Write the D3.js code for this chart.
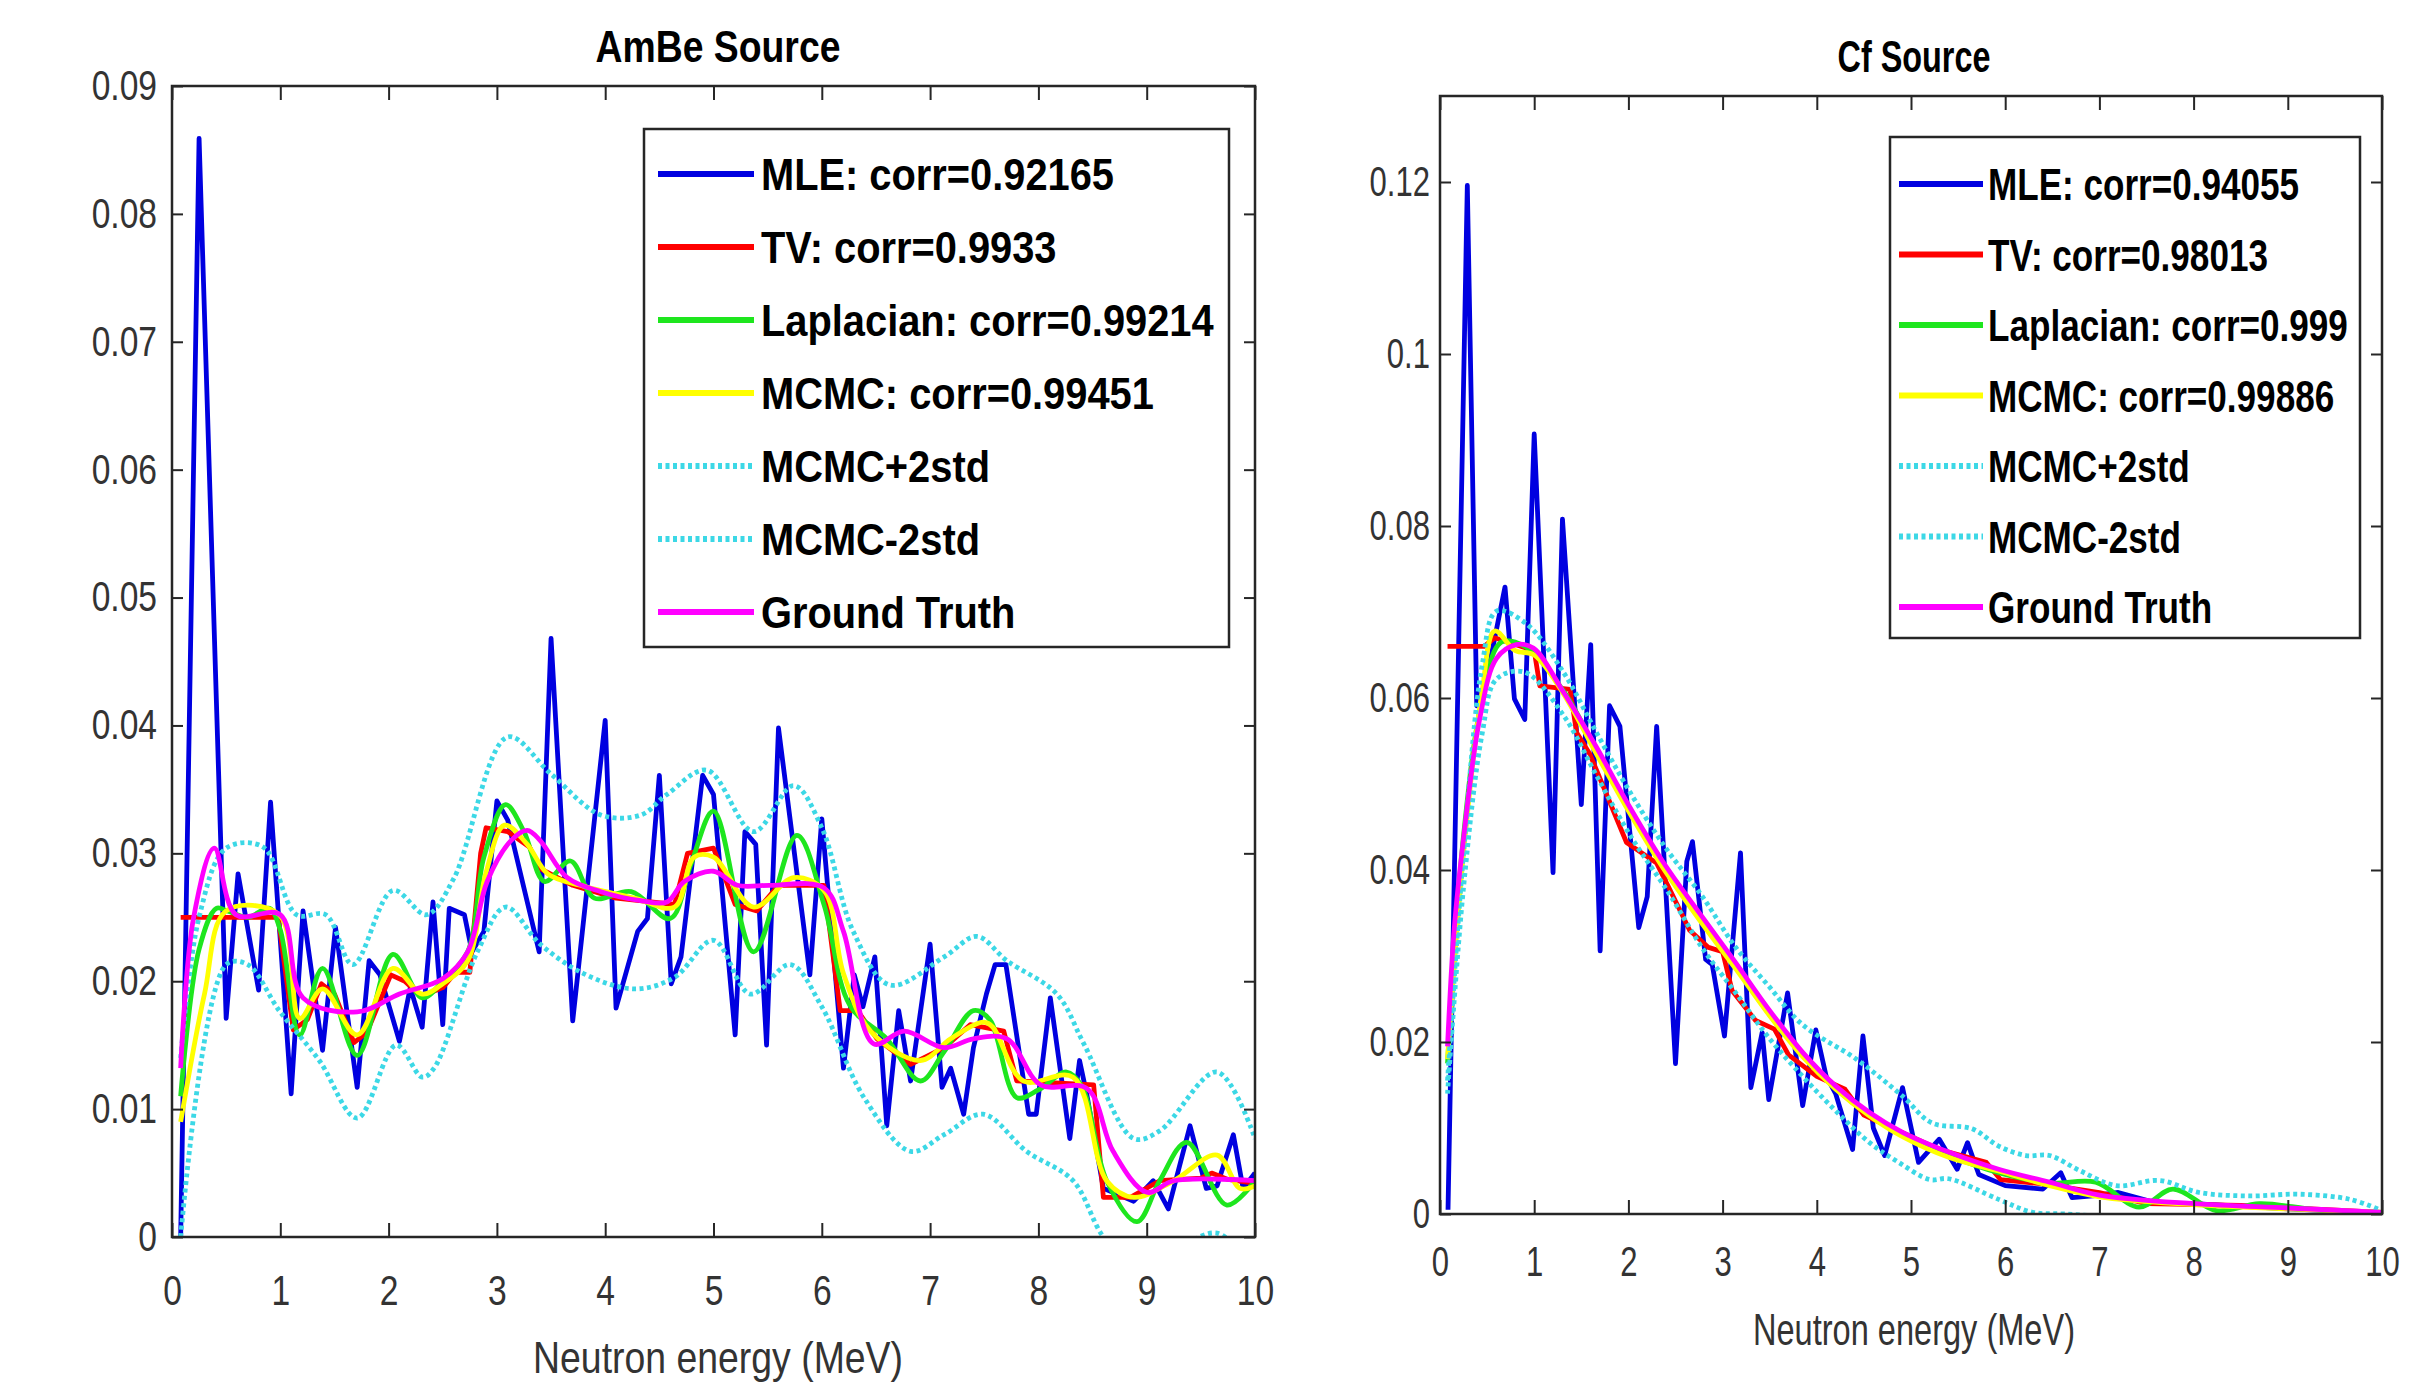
<!DOCTYPE html>
<html><head><meta charset="utf-8">
<script src="https://cdn.jsdelivr.net/npm/d3@7"></script>
<style>body{margin:0;background:#fff}svg{display:block}</style>
</head><body>
<svg id="c" width="2433" height="1389"></svg>
<script>
// ---------- labels / ticks ----------
const energyTicks = [0,1,2,3,4,5,6,7,8,9,10];
const amYTicks = [0,0.01,0.02,0.03,0.04,0.05,0.06,0.07,0.08,0.09];
const cfYTicks = [0,0.02,0.04,0.06,0.08,0.10,0.12];
const amTitle = "AmBe Source";
const cfTitle = "Cf Source";
const xTitle = "Neutron energy (MeV)";
const amLegend = ["MLE: corr=0.92165","TV: corr=0.9933","Laplacian: corr=0.99214","MCMC: corr=0.99451","MCMC+2std","MCMC-2std","Ground Truth"];
const cfLegend = ["MLE: corr=0.94055","TV: corr=0.98013","Laplacian: corr=0.999","MCMC: corr=0.99886","MCMC+2std","MCMC-2std","Ground Truth"];

// ---------- AmBe data [energy MeV, value] ----------
const amMLE = [[0.08,0.000],[0.25,0.0859],[0.50,0.0171],[0.61,0.0284],[0.80,0.0193],[0.91,0.0340],[1.10,0.0112],[1.21,0.0255],[1.39,0.0146],[1.51,0.0242],[1.71,0.0117],[1.82,0.0216],[1.92,0.0205],[2.10,0.0153],[2.20,0.0195],[2.31,0.0164],[2.41,0.0262],[2.50,0.0166],[2.56,0.0257],[2.70,0.0252],[2.77,0.0223],[2.88,0.0239],[3.00,0.0341],[3.10,0.0326],[3.39,0.0223],[3.50,0.0468],[3.70,0.0169],[4.00,0.0404],[4.10,0.0179],[4.30,0.0239],[4.39,0.0249],[4.50,0.0361],[4.61,0.0198],[4.70,0.0219],[4.90,0.0361],[5.00,0.0346],[5.20,0.0158],[5.29,0.0317],[5.39,0.0307],[5.49,0.0150],[5.60,0.0398],[5.89,0.0205],[6.00,0.0327],[6.20,0.0132],[6.30,0.0205],[6.38,0.0180],[6.49,0.0219],[6.60,0.0087],[6.71,0.0177],[6.82,0.0122],[7.00,0.0229],[7.11,0.0117],[7.19,0.0132],[7.31,0.0096],[7.40,0.0148],[7.52,0.0190],[7.60,0.0213],[7.70,0.0213],[7.91,0.0096],[7.98,0.0096],[8.11,0.0187],[8.29,0.0077],[8.38,0.0138],[8.45,0.0110],[8.60,0.0038],[8.88,0.0028],[9.06,0.0044],[9.20,0.0022],[9.40,0.0087],[9.55,0.0038],[9.65,0.0040],[9.80,0.0080],[9.89,0.0038],[10.0,0.0050]];
const amTV = [[0.08,0.0250],[0.98,0.0250],[1.12,0.0162],[1.25,0.0170],[1.38,0.0198],[1.50,0.0190],[1.68,0.0152],[1.80,0.0160],[2.02,0.0205],[2.15,0.0200],[2.30,0.0188],[2.50,0.0195],[2.62,0.0207],[2.75,0.0207],[2.85,0.0300],[2.90,0.0320],[3.10,0.0317],[3.30,0.0305],[3.40,0.0288],[3.70,0.0275],[4.10,0.0265],[4.64,0.0260],[4.76,0.0300],[5.00,0.0304],[5.20,0.0260],[5.40,0.0255],[5.60,0.0275],[6.02,0.0275],[6.17,0.0177],[6.33,0.0177],[6.51,0.0155],[6.82,0.0135],[7.13,0.0148],[7.37,0.0166],[7.68,0.0161],[7.80,0.0122],[8.51,0.0119],[8.60,0.0031],[8.85,0.0031],[9.12,0.0044],[9.50,0.0046],[9.60,0.0050],[9.75,0.0045],[10.0,0.0042]];
const amLap = [[0.08,0.0110],[0.25,0.0225],[0.41,0.0257],[0.51,0.0255],[0.70,0.0250],[0.90,0.0257],[1.00,0.0240],[1.18,0.0158],[1.39,0.0210],[1.71,0.0142],[2.04,0.0221],[2.31,0.0187],[2.50,0.0200],[2.73,0.0223],[2.88,0.0297],[3.08,0.0338],[3.25,0.0317],[3.44,0.0278],[3.68,0.0294],[3.90,0.0265],[4.24,0.0270],[4.60,0.0249],[4.79,0.0291],[5.00,0.0333],[5.37,0.0223],[5.77,0.0314],[6.02,0.0260],[6.26,0.0181],[6.60,0.0155],[6.91,0.0122],[7.13,0.0145],[7.40,0.0177],[7.55,0.0170],[7.80,0.0109],[8.00,0.0115],[8.26,0.0129],[8.40,0.0118],[8.63,0.0044],[8.91,0.0012],[9.12,0.0044],[9.37,0.0074],[9.74,0.0025],[10.0,0.0044]];
const amMCMC = [[0.08,0.0090],[0.30,0.0190],[0.50,0.0255],[0.99,0.0252],[1.18,0.0171],[1.39,0.0194],[1.71,0.0158],[2.04,0.0210],[2.31,0.0190],[2.50,0.0198],[2.73,0.0216],[2.90,0.0285],[3.07,0.0322],[3.28,0.0307],[3.47,0.0284],[3.77,0.0275],[4.27,0.0265],[4.64,0.0258],[4.82,0.0297],[5.00,0.0297],[5.37,0.0258],[5.74,0.0281],[6.02,0.0271],[6.20,0.0206],[6.45,0.0161],[6.91,0.0138],[7.19,0.0155],[7.49,0.0168],[7.58,0.0164],[7.86,0.0122],[8.32,0.0125],[8.63,0.0044],[8.88,0.0031],[9.25,0.0044],[9.65,0.0064],[9.86,0.0038],[10.0,0.0040]];
const amUp = [[0.08,0.0140],[0.25,0.0250],[0.50,0.0304],[0.84,0.0305],[1.15,0.0252],[1.42,0.0252],[1.67,0.0213],[2.04,0.0271],[2.35,0.0252],[2.60,0.0280],[3.10,0.0391],[3.50,0.0362],[3.96,0.0330],[4.33,0.0330],[4.57,0.0346],[4.94,0.0365],[5.37,0.0317],[5.74,0.0353],[6.00,0.0320],[6.29,0.0239],[6.63,0.0197],[7.13,0.0219],[7.43,0.0235],[7.71,0.0216],[8.17,0.0190],[8.42,0.0151],[8.88,0.0077],[9.12,0.0083],[9.65,0.0129],[10.0,0.0077]];
const amLow = [[0.08,0.0000],[0.50,0.0213],[0.70,0.0213],[0.99,0.0177],[1.36,0.0138],[1.71,0.0093],[2.07,0.0150],[2.31,0.0125],[2.42,0.0132],[2.82,0.0223],[3.08,0.0258],[3.40,0.0229],[3.80,0.0206],[4.27,0.0194],[4.64,0.0203],[5.00,0.0232],[5.34,0.0190],[5.71,0.0213],[6.00,0.0180],[6.39,0.0109],[6.82,0.0067],[7.13,0.0080],[7.49,0.0096],[7.89,0.0067],[8.32,0.0044],[8.60,0.0000],[9.00,-0.0035],[9.30,-0.0010],[9.65,0.0003],[10.0,-0.0025]];
const amTruth = [[0.08,0.0132],[0.20,0.0250],[0.39,0.0304],[0.59,0.0252],[1.00,0.0252],[1.21,0.0187],[1.71,0.0176],[2.10,0.0190],[2.50,0.0202],[2.73,0.0223],[2.91,0.0278],[3.13,0.0310],[3.28,0.0318],[3.40,0.0310],[3.65,0.0281],[3.96,0.0270],[4.33,0.0263],[4.57,0.0262],[4.73,0.0278],[5.00,0.0286],[5.22,0.0275],[5.53,0.0275],[6.02,0.0273],[6.20,0.0239],[6.48,0.0151],[6.76,0.0161],[7.13,0.0148],[7.40,0.0155],[7.71,0.0155],[8.02,0.0119],[8.45,0.0116],[8.69,0.0067],[9.00,0.0035],[9.25,0.0044],[10.0,0.0044]];

// ---------- Cf data [energy MeV, value] ----------
const cfMLE = [[0.085,0.0005],[0.29,0.1196],[0.39,0.0591],[0.49,0.0620],[0.69,0.0729],[0.79,0.0599],[0.90,0.0575],[1.00,0.0907],[1.20,0.0397],[1.30,0.0808],[1.50,0.0476],[1.60,0.0662],[1.70,0.0306],[1.80,0.0591],[1.91,0.0567],[2.11,0.0333],[2.20,0.0369],[2.30,0.0567],[2.50,0.0175],[2.62,0.0410],[2.68,0.0433],[2.82,0.0296],[2.89,0.0290],[3.02,0.0207],[3.19,0.0420],[3.30,0.0147],[3.42,0.0211],[3.49,0.0133],[3.69,0.0257],[3.85,0.0126],[3.99,0.0214],[4.10,0.0160],[4.20,0.0140],[4.38,0.0075],[4.49,0.0207],[4.60,0.0100],[4.72,0.0068],[4.91,0.0147],[5.08,0.0060],[5.30,0.0087],[5.49,0.0052],[5.60,0.0083],[5.72,0.0046],[6.00,0.0033],[6.40,0.0029],[6.59,0.0048],[6.71,0.0019],[6.93,0.0021],[7.20,0.0025],[7.60,0.0013],[8.00,0.0012],[9.00,0.0006],[10.0,0.0001]];
const cfTV = [[0.08,0.0660],[0.47,0.0660],[0.58,0.0670],[1.00,0.0655],[1.06,0.0614],[1.38,0.0610],[1.45,0.0560],[1.59,0.0535],[1.98,0.0432],[2.30,0.0408],[2.45,0.0375],[2.65,0.0330],[2.85,0.0310],[3.00,0.0305],[3.10,0.0260],[3.35,0.0225],[3.55,0.0215],[3.70,0.0185],[4.00,0.0160],[4.30,0.0145],[4.50,0.0115],[4.80,0.0100],[5.30,0.0075],[5.80,0.0060],[5.95,0.0040],[6.40,0.0035],[7.00,0.0025],[7.50,0.0012],[8.50,0.0010],[10.0,0.0002]];
const cfLap = [[0.08,0.0175],[0.25,0.0440],[0.45,0.0600],[0.65,0.0665],[0.90,0.0660],[1.30,0.0610],[1.66,0.0540],[2.02,0.0468],[2.37,0.0405],[2.78,0.0340],[3.14,0.0288],[3.49,0.0233],[3.85,0.0185],[4.20,0.0146],[4.56,0.0115],[4.91,0.0092],[5.40,0.0068],[5.93,0.0048],[6.47,0.0036],[6.96,0.0037],[7.42,0.0008],[7.78,0.0029],[8.24,0.0004],[8.70,0.0012],[9.30,0.0005],[10.0,0.0002]];
const cfMCMC = [[0.08,0.0180],[0.25,0.0420],[0.45,0.0610],[0.58,0.0678],[0.80,0.0655],[1.00,0.0650],[1.31,0.0605],[1.66,0.0535],[2.02,0.0465],[2.37,0.0402],[2.78,0.0338],[3.14,0.0285],[3.49,0.0232],[3.85,0.0183],[4.20,0.0145],[4.56,0.0114],[4.91,0.0090],[5.40,0.0066],[5.93,0.0050],[6.47,0.0033],[7.00,0.0020],[8.00,0.0011],[9.00,0.0006],[10.0,0.0002]];
const cfUp = [[0.08,0.0155],[0.25,0.0420],[0.45,0.0640],[0.60,0.0701],[0.92,0.0686],[1.31,0.0630],[1.66,0.0560],[2.02,0.0490],[2.40,0.0425],[2.78,0.0370],[3.14,0.0310],[3.49,0.0265],[3.85,0.0220],[4.42,0.0180],[4.91,0.0137],[5.22,0.0106],[5.65,0.0099],[5.93,0.0079],[6.22,0.0068],[6.47,0.0068],[6.80,0.0050],[7.18,0.0033],[7.64,0.0039],[8.06,0.0025],[8.59,0.0021],[9.13,0.0023],[9.66,0.0017],[10.0,0.0004]];
const cfLow = [[0.08,0.0140],[0.25,0.0380],[0.45,0.0560],[0.60,0.0622],[0.90,0.0630],[1.31,0.0580],[1.66,0.0510],[2.02,0.0440],[2.43,0.0373],[2.78,0.0310],[3.14,0.0257],[3.49,0.0205],[3.85,0.0160],[4.20,0.0120],[4.56,0.0083],[4.87,0.0060],[5.20,0.0040],[5.40,0.0041],[5.93,0.0017],[6.29,0.0002],[6.64,0.0000],[7.50,-0.0005],[8.50,-0.0004],[10.0,-0.0002]];
const cfTruth = [[0.08,0.0195],[0.15,0.0330],[0.245,0.0432],[0.42,0.0575],[0.60,0.0646],[0.81,0.0662],[0.99,0.0658],[1.31,0.0607],[1.66,0.0543],[2.02,0.0472],[2.37,0.0409],[2.78,0.0346],[3.14,0.0292],[3.49,0.0238],[3.85,0.0188],[4.20,0.0149],[4.56,0.0118],[4.91,0.0095],[5.40,0.0072],[5.93,0.0052],[6.47,0.0037],[7.00,0.0022],[8.00,0.0012],[9.00,0.0007],[10.0,0.0002]];

// ---------- styles ----------
const styles = [
  {color:"#0000e0", dash:null, curve:"linear"},
  {color:"#ff0000", dash:null, curve:"linear"},
  {color:"#1ee61e", dash:null, curve:"smooth"},
  {color:"#ffff00", dash:null, curve:"smooth"},
  {color:"#3cd8e6", dash:"4,3.5", curve:"smooth"},
  {color:"#3cd8e6", dash:"4,3.5", curve:"smooth"},
  {color:"#ff00ff", dash:null, curve:"smooth"}
];

const svg = d3.select("#c");
const FONT = "'Liberation Sans', Arial, Helvetica, sans-serif";

function txt(g, x, y, s, size, weight, sx, anchor){
  return g.append("text").attr("transform",`translate(${x},${y}) scale(${sx},1)`)
    .attr("text-anchor",anchor).attr("font-family",FONT).attr("font-size",size)
    .attr("font-weight",weight).attr("fill","#000").text(s);
}

function panel(cfg){
  const x = d3.scaleLinear().domain([0,10]).range([cfg.left,cfg.right]);
  const y = d3.scaleLinear().domain([0,cfg.ymax]).range([cfg.bottom,cfg.top]);
  const g = svg.append("g");
  const cid = "clip"+cfg.id;
  g.append("clipPath").attr("id",cid).append("rect")
    .attr("x",cfg.left).attr("y",cfg.top).attr("width",cfg.right-cfg.left).attr("height",cfg.bottom-cfg.top);

  const lines = g.append("g").attr("clip-path",`url(#${cid})`);
  cfg.series.forEach((d,i)=>{
    const st = styles[i];
    const gen = d3.line().x(p=>x(p[0])).y(p=>y(p[1]))
      .curve(st.curve==="linear"?d3.curveLinear:d3.curveCatmullRom.alpha(0.5));
    lines.append("path").attr("d",gen(d)).attr("fill","none").attr("stroke",st.color)
      .attr("stroke-width",4.8).attr("stroke-linejoin","round")
      .attr("stroke-dasharray",st.dash);
  });

  // axes (inward ticks on all four sides)
  const tc = "#262626";
  const bottom = g.append("g").attr("transform",`translate(0,${cfg.bottom})`)
    .call(d3.axisBottom(x).tickValues(energyTicks).tickSizeInner(-14).tickSizeOuter(0).tickPadding(cfg.xPad).tickFormat(d3.format("d")));
  const top = g.append("g").attr("transform",`translate(0,${cfg.top})`)
    .call(d3.axisTop(x).tickValues(energyTicks).tickSizeInner(-14).tickSizeOuter(0).tickFormat(""));
  const fmt = v => v===0 ? "0" : String(+v.toFixed(2));
  const left = g.append("g").attr("transform",`translate(${cfg.left},0)`)
    .call(d3.axisLeft(y).tickValues(cfg.yTicks).tickSizeInner(-11).tickSizeOuter(0).tickPadding(cfg.yPad).tickFormat(fmt));
  const right = g.append("g").attr("transform",`translate(${cfg.right},0)`)
    .call(d3.axisRight(y).tickValues(cfg.yTicks).tickSizeInner(-11).tickSizeOuter(0).tickFormat(""));
  [bottom,top,left,right].forEach(a=>{
    a.select(".domain").remove();
    a.selectAll(".tick line").attr("stroke",tc).attr("stroke-width",2);
    a.selectAll("text").attr("font-family",FONT).attr("font-size",42).attr("fill","#333");
  });
  bottom.selectAll("text").attr("transform",`scale(${cfg.tickSx},1)`);
  left.selectAll("text").attr("transform",`scale(${cfg.tickSx},1)`).attr("x",-cfg.yPad/cfg.tickSx);

  g.append("rect").attr("x",cfg.left).attr("y",cfg.top).attr("width",cfg.right-cfg.left)
    .attr("height",cfg.bottom-cfg.top).attr("fill","none").attr("stroke",tc).attr("stroke-width",2.5);

  // titles
  txt(g, cfg.titleX, cfg.titleY, cfg.title, 45, "bold", cfg.titleSx, "middle");
  txt(g, cfg.titleX, cfg.xTitleY, xTitle, 44, "normal", cfg.xTitleSx, "middle").attr("fill","#333");

  // legend
  const L = cfg.legend;
  const lg = g.append("g");
  lg.append("rect").attr("x",L.x0).attr("y",L.y0).attr("width",L.x1-L.x0).attr("height",L.y1-L.y0)
    .attr("fill","#fff").attr("stroke",tc).attr("stroke-width",2.5);
  cfg.labels.forEach((s,i)=>{
    const cy = L.row0 + i*L.step;
    const st = styles[i];
    lg.append("line").attr("x1",L.lx0).attr("x2",L.lx1).attr("y1",cy).attr("y2",cy)
      .attr("stroke",st.color).attr("stroke-width",6).attr("stroke-dasharray",st.dash);
    txt(lg, L.tx, cy+16, s, 45, "bold", L.sx, "start");
  });
}

panel({id:"am", left:172, right:1255, top:86, bottom:1237, ymax:0.09, yTicks:amYTicks,
  xPad:38, yPad:15, tickSx:0.8, title:amTitle, titleX:718, titleY:62, xTitleY:1373, titleSx:0.83, xTitleSx:0.85,
  series:[amMLE,amTV,amLap,amMCMC,amUp,amLow,amTruth], labels:amLegend,
  legend:{x0:644,y0:129,x1:1229,y1:647,row0:174,step:73,lx0:658,lx1:754,tx:761,sx:0.885}});

panel({id:"cf", left:1440, right:2382, top:96, bottom:1214, ymax:0.13, yTicks:cfYTicks,
  xPad:32, yPad:10, tickSx:0.74, title:cfTitle, titleX:1914, titleY:72, xTitleY:1345, titleSx:0.72, xTitleSx:0.74,
  series:[cfMLE,cfTV,cfLap,cfMCMC,cfUp,cfLow,cfTruth], labels:cfLegend,
  legend:{x0:1890,y0:137,x1:2360,y1:638,row0:184,step:70.5,lx0:1899,lx1:1983,tx:1988,sx:0.78}});
</script>
</body></html>
